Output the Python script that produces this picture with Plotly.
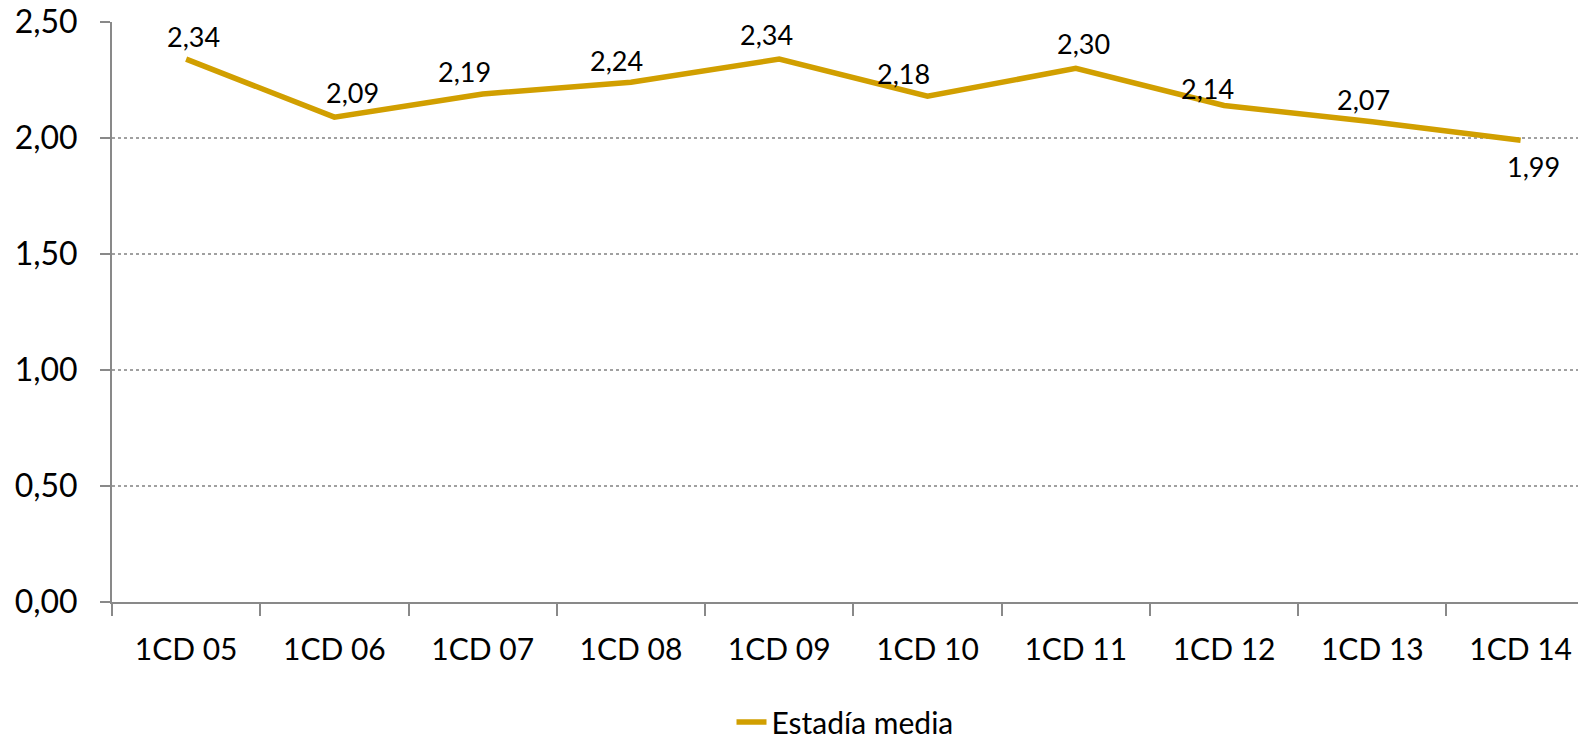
import plotly.graph_objects as go

categories = ["1CD 05", "1CD 06", "1CD 07", "1CD 08", "1CD 09",
              "1CD 10", "1CD 11", "1CD 12", "1CD 13", "1CD 14"]
estadia_media = [2.34, 2.09, 2.19, 2.24, 2.34, 2.18, 2.30, 2.14, 2.07, 1.99]
y_ticks = [0.0, 0.5, 1.0, 1.5, 2.0, 2.5]

# label placement (pixel offsets from each point), styling only
label_dx = [7, 18, -18, -14, -13, -24, 8, -17, -9, 13]
label_dy = [23, 25, 22, 22, 25, 23, 25, 17, 22, -26]

labels = [f"{v:.2f}".replace(".", ",") for v in estadia_media]

FONT = "Lato, Open Sans, sans-serif"
GOLD = "#D19F00"

fig = go.Figure()
fig.add_trace(go.Scatter(
    x=list(range(len(categories))),
    y=estadia_media,
    mode="lines",
    name="Estadía media",
    line=dict(color=GOLD, width=5.5),
    cliponaxis=False,
))

for i, (v, t) in enumerate(zip(estadia_media, labels)):
    fig.add_annotation(x=i, y=v, text=t, showarrow=False,
                       xshift=label_dx[i], yshift=label_dy[i],
                       xanchor="center", yanchor="middle",
                       font=dict(family=FONT, size=27, color="#000000"))

fig.update_layout(
    width=1578, height=748,
    margin=dict(l=112, r=0, t=22, b=146, autoexpand=False),
    paper_bgcolor="white",
    plot_bgcolor="white",
    separators=",.",
    font=dict(family=FONT, size=30, color="#000000"),
    showlegend=True,
    legend=dict(orientation="h", x=0.5, xanchor="center", y=-0.207, yanchor="middle",
                font=dict(family=FONT, size=30, color="#000000")),
)

fig.update_xaxes(
    range=[-0.5, 9.387],
    tickmode="array",
    tickvals=list(range(len(categories))),
    ticktext=categories,
    showgrid=False,
    showline=True, linecolor="#898989", linewidth=2,
    ticks="", zeroline=False,
    tickfont=dict(family=FONT, size=30),
    ticklabelstandoff=20,
)
fig.update_xaxes(minor=dict(tickmode="array",
                            tickvals=[i - 0.5 for i in range(len(categories) + 1)],
                            ticks="outside", ticklen=12, tickcolor="#898989",
                            tickwidth=2, showgrid=False))

fig.update_yaxes(
    range=[0, 2.5],
    tickmode="array",
    tickvals=y_ticks,
    tickformat=".2f",
    showgrid=True, gridcolor="#A0A0A0", griddash="dot", gridwidth=1.5,
    showline=True, linecolor="#898989", linewidth=2,
    ticks="outside", ticklen=10, tickcolor="#898989", tickwidth=2,
    zeroline=False,
    tickfont=dict(family=FONT, size=32),
    ticklabelstandoff=16,
)

fig.write_html("out.html",
               config={"displayModeBar": False},
               post_script="document.body.style.margin='0';document.body.style.overflow='hidden';")
